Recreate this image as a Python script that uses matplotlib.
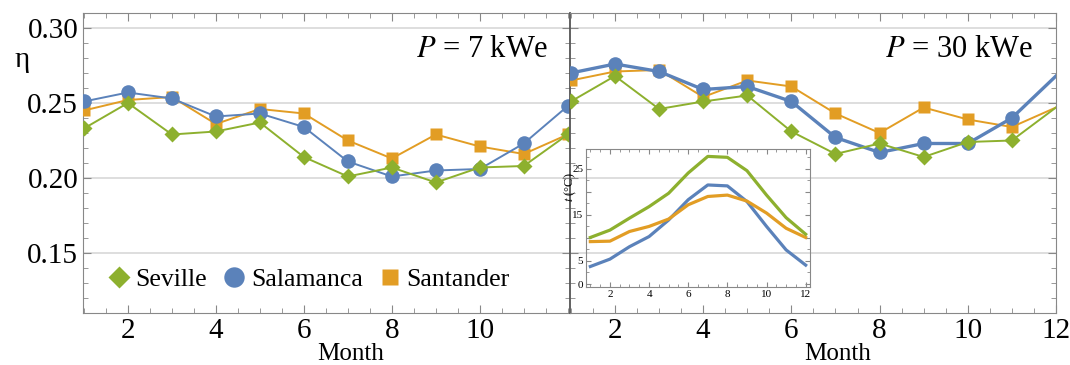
import matplotlib
matplotlib.use("Agg")
import matplotlib.pyplot as plt
from matplotlib.ticker import MultipleLocator

plt.rcParams['font.family'] = ['Liberation Serif', 'DejaVu Serif']
plt.rcParams['mathtext.fontset'] = 'stix'

months = list(range(1, 13))
cities = ['Seville', 'Salamanca', 'Santander']

# efficiency, P = 7 kWe
eta7_seville = [0.233, 0.250, 0.229, 0.231, 0.237, 0.214, 0.201, 0.207, 0.197, 0.207, 0.208, 0.229]
eta7_salamanca = [0.251, 0.257, 0.253, 0.241, 0.243, 0.234, 0.211, 0.201, 0.205, 0.206, 0.223, 0.248]
eta7_santander = [0.245, 0.252, 0.254, 0.236, 0.246, 0.243, 0.225, 0.213, 0.229, 0.221, 0.216, 0.229]

# efficiency, P = 30 kWe
eta30_seville = [0.251, 0.268, 0.246, 0.251, 0.255, 0.231, 0.216, 0.223, 0.214, 0.224, 0.225, 0.247]
eta30_salamanca = [0.270, 0.276, 0.271, 0.259, 0.261, 0.251, 0.227, 0.217, 0.223, 0.223, 0.240, 0.268]
eta30_santander = [0.265, 0.271, 0.272, 0.254, 0.265, 0.261, 0.243, 0.230, 0.247, 0.239, 0.234, 0.247]

# mean temperature (inset)
t_seville = [10.1, 11.7, 14.3, 16.8, 19.7, 24.1, 27.7, 27.5, 24.6, 19.3, 14.4, 10.8]
t_salamanca = [3.8, 5.4, 8.1, 10.3, 13.9, 18.3, 21.5, 21.3, 17.9, 12.5, 7.4, 4.1]
t_santander = [9.2, 9.3, 11.4, 12.5, 14.1, 17.2, 19.0, 19.3, 18.0, 15.4, 12.1, 10.1]

colors = {'Seville': '#8DB02E', 'Salamanca': '#5B82BA', 'Santander': '#E29D24'}
markers = {'Seville': 'D', 'Salamanca': 'o', 'Santander': 's'}
msizes = {'Seville': 8, 'Salamanca': 10.5, 'Santander': 8.5}

fig = plt.figure(figsize=(10.70, 3.65), dpi=100)
ax1 = fig.add_axes([0.0776, 0.1425, 0.4551, 0.8219])
ax2 = fig.add_axes([0.5327, 0.1425, 0.4542, 0.8219])

spine_col = '#888888'


def style(ax):
    ax.set_xlim(0.98, 12.05)
    ax.set_ylim(0.11, 0.31)
    ax.set_yticks([0.15, 0.20, 0.25, 0.30])
    ax.yaxis.set_minor_locator(MultipleLocator(0.01))
    ax.xaxis.set_minor_locator(MultipleLocator(0.5))
    ax.grid(axis='y', color='#D8D8D8', lw=1.2, zorder=0)
    ax.set_axisbelow(True)
    ax.tick_params(which='both', direction='in', top=True, right=True,
                   color=spine_col, labelsize=21)
    ax.tick_params(which='major', length=6)
    ax.tick_params(which='minor', length=3.5)
    for s in ax.spines.values():
        s.set_color(spine_col)
    ax.set_xlabel('Month', fontsize=18, labelpad=0)
    ax.xaxis.set_label_coords(0.55, -0.1)


style(ax1)
style(ax2)
ax1.set_xticks([2, 4, 6, 8, 10])
ax2.set_xticks([2, 4, 6, 8, 10, 12])
ax2.set_xlim(0.98, 12.0)
ax2.set_yticklabels([])
ax2.spines['left'].set_color('#555555')
ax2.spines['left'].set_linewidth(1.3)

data7 = {'Seville': eta7_seville, 'Salamanca': eta7_salamanca, 'Santander': eta7_santander}
data30 = {'Seville': eta30_seville, 'Salamanca': eta30_salamanca, 'Santander': eta30_santander}

for c in ['Santander', 'Salamanca', 'Seville']:
    ax1.plot(months, data7[c], color=colors[c], lw=1.4, marker=markers[c],
             ms=msizes[c], mec='none', label=c, zorder=3)
for c in ['Santander', 'Salamanca', 'Seville']:
    ax2.plot(months, data30[c], color=colors[c], lw=2.4 if c == 'Salamanca' else 1.4,
             marker=markers[c], ms=msizes[c], mec='none', markevery=slice(0, 11), zorder=3)

ax1.set_ylabel('η', fontsize=21, rotation=0, labelpad=0)
ax1.yaxis.set_label_coords(-0.125, 0.80)

ax1.text(0.955, 0.877, '$P$ = 7 kWe', transform=ax1.transAxes, ha='right', va='center', fontsize=22)
ax2.text(0.953, 0.877, '$P$ = 30 kWe', transform=ax2.transAxes, ha='right', va='center', fontsize=22)

h, l = ax1.get_legend_handles_labels()
order = [l.index(c) for c in cities]
leg = ax1.legend([h[i] for i in order], [l[i] for i in order], loc='lower left',
                 bbox_to_anchor=(0.0, -0.005), ncol=3, frameon=False, fontsize=18.5,
                 handlelength=1.0, handletextpad=0.15, columnspacing=0.55, markerscale=1.4)
for lh in leg.legend_handles:
    lh.set_linestyle('none')

# inset with monthly temperature
axi = fig.add_axes([0.5477, 0.2137, 0.2093, 0.378])
axi.set_facecolor('none')
tdata = {'Seville': t_seville, 'Salamanca': t_salamanca, 'Santander': t_santander}
for c in ['Salamanca', 'Santander', 'Seville']:
    axi.plot(months, tdata[c], color=colors[c], lw=2.3)
axi.set_xlim(0.78, 12.22)
axi.set_ylim(-0.65, 29.3)
axi.set_xticks([2, 4, 6, 8, 10, 12])
axi.set_yticks([0, 5, 10, 15, 20, 25])
axi.set_yticklabels(['0', '5', '', '15', '', '25'])
axi.xaxis.set_minor_locator(MultipleLocator(0.5))
axi.yaxis.set_minor_locator(MultipleLocator(2.5))
axi.tick_params(which='both', direction='in', top=True, right=True, color=spine_col,
                labelsize=8, pad=2)
axi.tick_params(which='major', length=3.5)
axi.tick_params(which='minor', length=2)
for s in axi.spines.values():
    s.set_color(spine_col)
axi.set_ylabel('$t$ (°C)', fontsize=9, labelpad=1)
axi.yaxis.set_label_coords(-0.035, 0.72)

fig.savefig('out.png', dpi=100)
